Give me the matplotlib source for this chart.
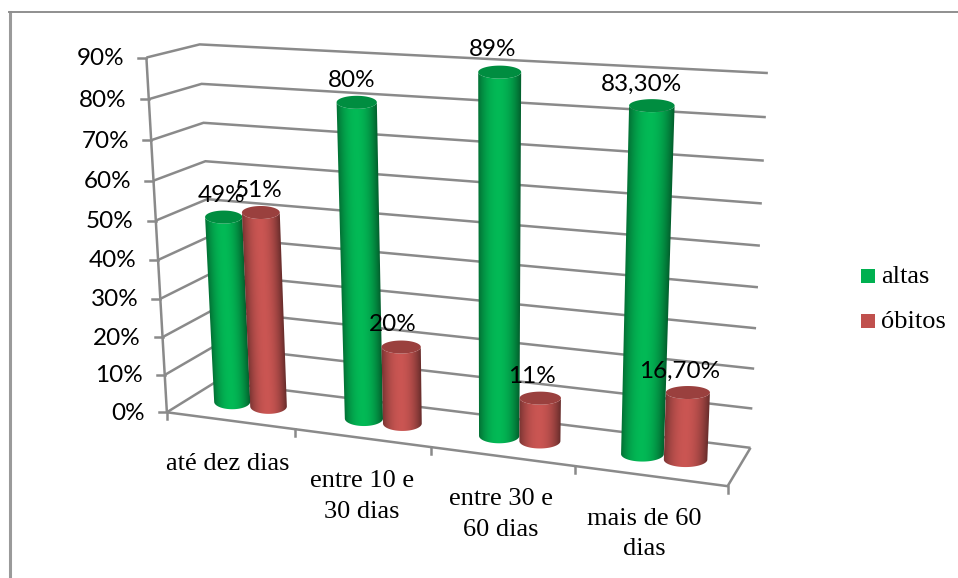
#!/usr/bin/env python3
"""Altas e obitos por tempo de internacao: cylinder columns in a 3D box."""
import numpy as np
import matplotlib; matplotlib.use("Agg")
import matplotlib.pyplot as plt
from matplotlib.patches import Polygon, Rectangle

categories = ["até dez dias", "entre 10 e\n30 dias", "entre 30 e\n60 dias", "mais de 60\ndias"]
altas = [49, 80, 89, 83.3]
obitos = [51, 20, 11, 16.7]
altas_labels = ["49%", "80%", "89%", "83,30%"]
obitos_labels = ["51%", "20%", "11%", "16,70%"]
ticks = list(range(0, 100, 10))
series_names = ["altas", "óbitos"]

W, H = 958, 578
GREY = "#8a8a8a"
GREEN = np.array([0, 176, 80]) / 255
RED = np.array([192, 80, 77]) / 255

# camera: box corners (category, depth, percent) -> screen pixels
box = [(0, 0, 0), (0, 0, 90), (0, 1, 0), (0, 1, 90), (4, 1, 0), (4, 1, 90), (4, 0, 0)]
screen = [(165, 412), (148, 58), (218, 382), (198, 44), (750, 448), (768, 73), (728, 486)]

def fit_camera(world, pix):
    A, b = [], []
    for (x, y, z), (u, v) in zip(world, pix):
        A.append([x, y, z, 1, 0, 0, 0, 0, -u*x, -u*y, -u*z]); b.append(u)
        A.append([0, 0, 0, 0, x, y, z, 1, -v*x, -v*y, -v*z]); b.append(v)
    p = np.linalg.lstsq(np.array(A, float), np.array(b, float), rcond=None)[0]
    return np.append(p, 1).reshape(3, 4)

cam = fit_camera(box, screen)

def proj(x, y, z):
    x, y, z = np.broadcast_arrays(x, y, z)
    q = cam @ np.array([x, y, z, np.ones_like(x)], float).reshape(4, -1)
    return (q[0]/q[2]).reshape(x.shape), (q[1]/q[2]).reshape(x.shape)

def line3d(ax, pts, lw=1.8):
    xy = [proj(*p) for p in pts]
    ax.plot([float(a[0]) for a in xy], [float(a[1]) for a in xy], color=GREY, lw=lw,
            solid_capstyle="butt", solid_joinstyle="miter", zorder=1)

def cylinder(ax, xc, val, col, rx=0.145, n=90):
    # base and lid stay level on screen, only their centres come from the camera
    bc = proj(xc, 0.5, 0); tc = proj(xc, 0.5, val)
    br = (proj(xc+rx, 0.5, 0)[0] - proj(xc-rx, 0.5, 0)[0]) / 2
    tr = (proj(xc+rx, 0.5, val)[0] - proj(xc-rx, 0.5, val)[0]) / 2
    th = np.linspace(np.pi, 0, n+1)
    bx, by = bc[0] + br*np.cos(th), bc[1] + 7.5*np.sin(th)
    tx, ty = tc[0] + tr*np.cos(th), tc[1] + 6.5*np.sin(th)
    outline = np.r_[np.c_[bx, by], np.c_[tx, ty][::-1]]

    # shaded wall: a horizontal ramp per pixel row, clipped to the outline
    x0, x1 = int(outline[:, 0].min())-2, int(outline[:, 0].max())+3
    y0, y1 = int(outline[:, 1].min())-2, int(outline[:, 1].max())+3
    xx, yy = np.meshgrid(np.arange(x0, x1)+0.5, np.arange(y0, y1)+0.5)
    f = np.clip((yy-tc[1])/(bc[1]-tc[1]), 0, 1)
    c = np.clip((xx-(tc[0]+f*(bc[0]-tc[0])))/(tr+f*(br-tr)), -1, 1)
    k = 1.04 - 0.42*np.abs(c)**2.2 - 0.1*np.clip(c, 0, 1)
    rgb = np.clip(col[None, None, :]*k[..., None] + 0.01, 0, 1)
    im = ax.imshow(rgb, extent=(x0, x1, y1, y0), aspect="auto", interpolation="bilinear", zorder=3)
    im.set_clip_path(Polygon(outline, transform=ax.transData))

    ph = np.linspace(0, 2*np.pi, 2*n+1)
    cap = col*0.8
    ax.add_patch(Polygon(np.c_[tc[0]+tr*np.cos(ph), tc[1]+6.5*np.sin(ph)], fc=cap, ec="none", zorder=3))

fig = plt.figure(figsize=(W/100, H/100), dpi=100)
ax = fig.add_axes([0, 0, 1, 1])
ax.axis("off")

# chart area border
ax.plot([10.5, 10.5], [H, 11.5], color="#9a9a9a", lw=2.2, zorder=1)
ax.plot([9.5, W], [11.7, 11.7], color="#8f8f8f", lw=1.4, zorder=1)

# walls and floor
for t in ticks:
    line3d(ax, [(0, 0, t), (0, 1, t), (4, 1, t)])
    px, py = proj(0, 0, t)
    ax.plot([px-8, px], [py, py], color=GREY, lw=1.8, zorder=1)
    ax.text(px-22, py+1, f"{t}%", ha="right", va="center", fontsize=17.5, family="Lato", color="black")
line3d(ax, [(0, 0, 0), (0, 0, 90)])
line3d(ax, [(0, 0, 0), (4, 0, 0), (4, 1, 0)])
for i in range(5):
    px, py = proj(i, 0, 0)
    ax.plot([px, px], [py, py+7], color=GREY, lw=1.8, zorder=1)

offs = 0.145
group_dx = [-0.03, 0, 0, 0]
lab_a = [(-2, -22), (-5, -22), (-7, -23), (-10, -21)]
lab_o = [(-2, -22), (-8, -23), (-8, -22), (-8, -21)]
cat_dx = [-2, 0, -1, -6]
for i in range(4):
    xg, xr = i+0.5-offs+group_dx[i], i+0.5+offs+group_dx[i]
    cylinder(ax, xg, altas[i], GREEN)
    cylinder(ax, xr, obitos[i], RED)
    for x, v, s, d in ((xg, altas[i], altas_labels[i], lab_a[i]),
                       (xr, obitos[i], obitos_labels[i], lab_o[i])):
        px, py = proj(x, 0.5, v)
        ax.text(px+d[0], py+d[1], s, ha="center", va="center", fontsize=17.5, family="Lato",
                color="black", zorder=5)
    px, py = proj(i+0.5, 0, 0)
    ax.text(px+cat_dx[i], py+32, categories[i], ha="center", va="top", fontsize=19,
            family="Liberation Serif", linespacing=1.5, color="black")

# legend
for y, c, s in zip((269, 314), (GREEN, RED), series_names):
    ax.add_patch(Rectangle((861, y), 14, 14, fc=c, ec="none"))
    ax.text(881, y+8, s, ha="left", va="center", fontsize=19, family="Liberation Serif", color="black")

ax.set_xlim(0, W); ax.set_ylim(H, 0)
fig.savefig("out.png", dpi=100)
